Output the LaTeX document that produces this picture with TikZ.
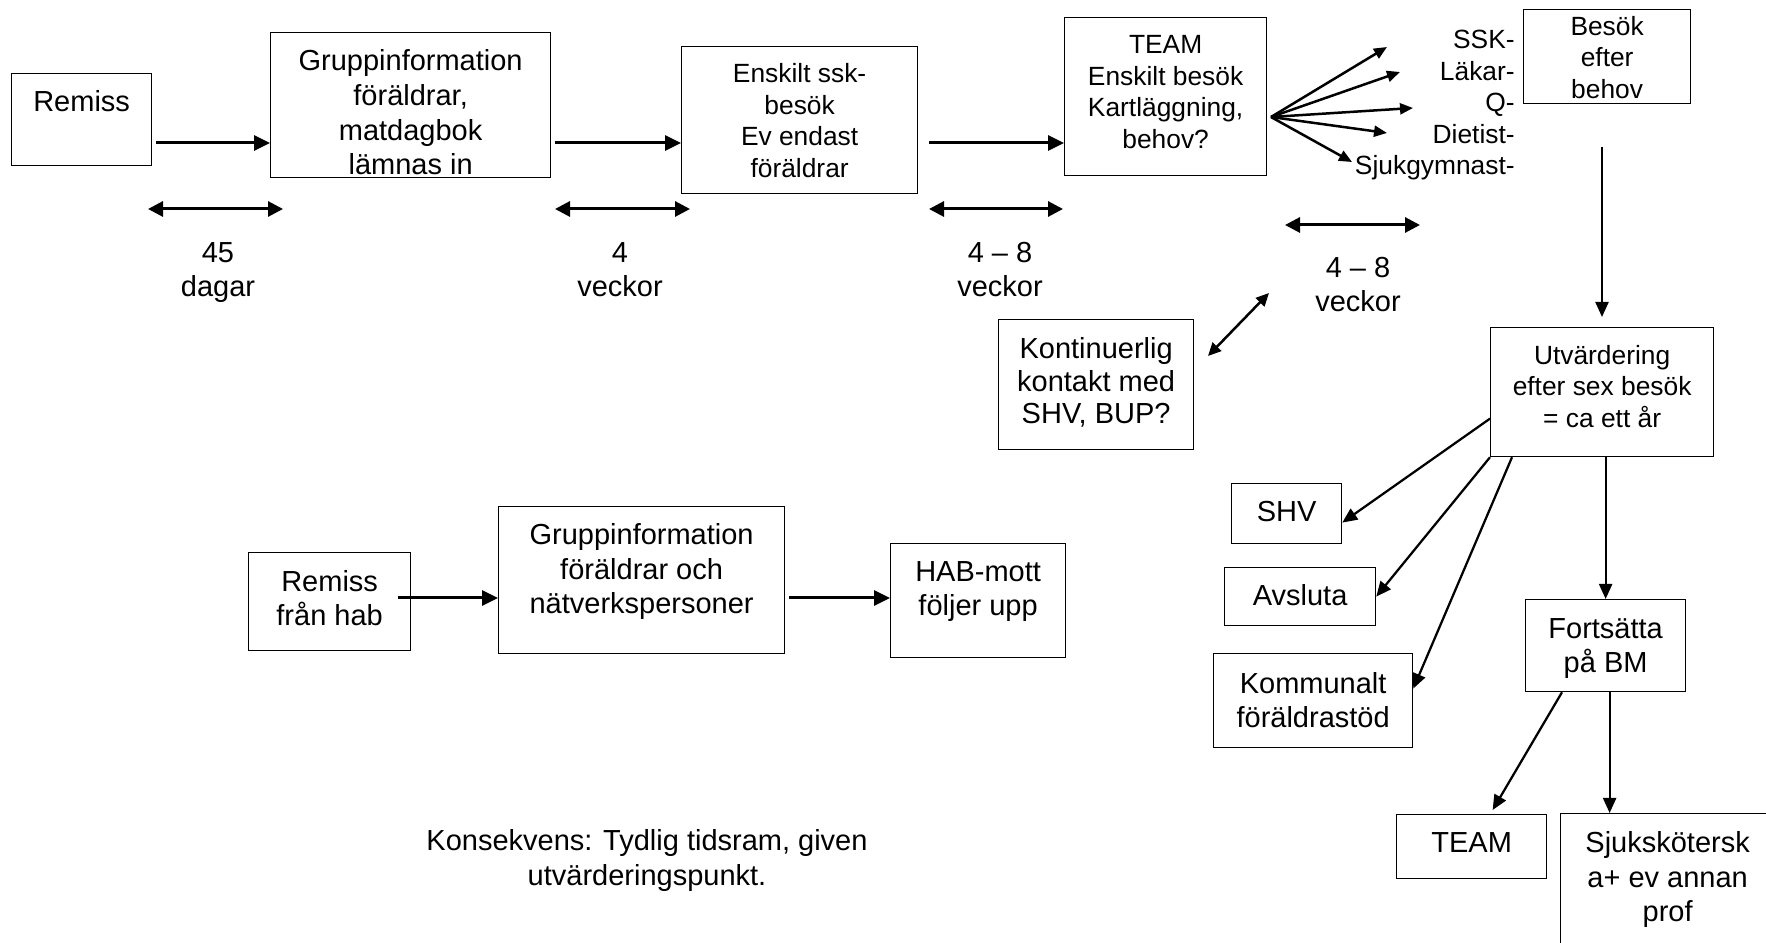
\documentclass[tikz,border=0pt]{standalone}
\usepackage{fontspec}
\setmainfont{Liberation Sans}
\usetikzlibrary{arrows.meta}

\newcommand{\mainsize}{\fontsize{16.5pt}{19.7pt}\selectfont}
\newcommand{\smallsize}{\fontsize{15pt}{18pt}\selectfont}

\tikzset{
  box/.style={draw, line width=0.025cm, inner sep=0pt, align=center, anchor=north west, font=\mainsize},
  smallbox/.style={box, font=\smallsize},
  lbl/.style={inner sep=0pt, align=center, anchor=base, font=\mainsize},
  arr/.style={line width=0.06cm, -{Triangle[length=0.32cm, width=0.3cm]}},
  darr/.style={line width=0.06cm, {Triangle[length=0.3cm, width=0.3cm]}-{Triangle[length=0.3cm, width=0.3cm]}},
  thindarr/.style={line width=0.05cm, {Triangle[length=0.26cm, width=0.24cm]}-{Triangle[length=0.26cm, width=0.24cm]}},
  thinarr/.style={line width=0.045cm, -{Triangle[length=0.3cm, width=0.26cm]}},
  fanarr/.style={line width=0.05cm, -{Triangle[length=0.26cm, width=0.22cm]}}
}

\begin{document}
\begin{tikzpicture}
\useasboundingbox (0,0) rectangle (35.32,-18.86);
\clip (0,0) rectangle (35.32,-18.86);

\node[box, minimum width=2.8cm, text height=0.76cm, text depth=1.08cm] (remiss) at (0.22,-1.46) {Remiss};
\node[box, minimum width=5.6cm, text height=2.84cm, text depth=0.06cm] (grupp1) at (5.4,-0.64) {Gruppinformation\\föräldrar,\\matdagbok\\lämnas in};
\node[smallbox, minimum width=4.72cm, text height=2.62cm, text depth=0.32cm] (enskilt) at (13.62,-0.92) {Enskilt ssk-\\besök\\Ev endast\\föräldrar};
\node[smallbox, minimum width=4.04cm, text height=2.62cm, text depth=0.54cm] (team) at (21.28,-0.34) {TEAM\\Enskilt besök\\Kartläggning,\\behov?};
\node[smallbox, minimum width=3.34cm, text height=1.78cm, text depth=0.1cm] (besok) at (30.46,-0.18) {Besök\\efter\\behov};
\node[lbl, font=\smallsize, align=right, anchor=base east] (roles) at (30.3,-3.5) {SSK-\\Läkar-\\Q-\\Dietist-\\Sjukgymnast-};

\coordinate (a1) at (3.12,-2.86);
\draw[arr] (a1) -- (a1 -| grupp1.west);
\coordinate (a2) at (11.1,-2.86);
\draw[arr] (a2) -- (a2 -| enskilt.west);
\coordinate (a3) at (18.58,-2.86);
\draw[arr] (a3) -- (a3 -| team.west);

\coordinate (fan) at (25.42,-2.34);
\foreach \x/\y [count=\i] in {27.74/-0.94, 28.0/-1.44, 28.26/-2.16, 27.74/-2.66, 27.04/-3.24} {
  \coordinate (f\i) at (\x,\y);
  \draw[fanarr] (fan) -- (f\i);
}

\foreach \name/\xa/\xb/\y in {t1/2.96/5.66/-4.18, t2/11.1/13.8/-4.18, t3/18.58/21.26/-4.18, t4/25.7/28.4/-4.5} {
  \coordinate (\name a) at (\xa,\y);
  \coordinate (\name b) at (\xb,\y);
  \draw[darr] (\name a) -- (\name b);
}

\node[lbl] (d45) at (4.36,-5.94) {45\\dagar};
\node[lbl] (w4) at (12.4,-5.94) {4\\veckor};
\node[lbl] (w48a) at (20.0,-5.94) {4 – 8\\veckor};
\node[lbl] (w48b) at (27.16,-6.24) {4 – 8\\veckor};

\node[box, font=\fontsize{16.5pt}{18.5pt}\selectfont, minimum width=3.9cm, text height=2.08cm, text depth=0.52cm] (kont) at (19.96,-6.38) {Kontinuerlig\\kontakt med\\SHV, BUP?};
\coordinate (k1) at (24.16,-7.12);
\coordinate (k2) at (25.38,-5.86);
\draw[thindarr] (k1) -- (k2);

\node[smallbox, minimum width=4.46cm, text height=2.0cm, text depth=0.58cm] (utv) at (29.8,-6.54) {Utvärdering\\efter sex besök\\= ca ett år};
\coordinate (b1) at (32.04,-2.94);
\draw[thinarr] (b1) -- ([yshift=0.2cm]b1 |- utv.north);

\node[box, minimum width=2.2cm, text height=0.76cm, text depth=0.44cm] (shv) at (24.62,-9.66) {SHV};
\node[box, minimum width=3.02cm, text height=0.76cm, text depth=0.4cm] (avsluta) at (24.48,-11.34) {Avsluta};
\node[box, minimum width=3.98cm, text height=1.48cm, text depth=0.4cm] (komm) at (24.26,-13.06) {Kommunalt\\föräldrastöd};
\node[box, minimum width=3.2cm, text height=1.46cm, text depth=0.38cm] (fort) at (30.5,-11.98) {Fortsätta\\på BM};
\node[box, minimum width=3.0cm, text height=0.76cm, text depth=0.52cm] (team2) at (27.92,-16.28) {TEAM};
\node[box, minimum width=4.28cm, text height=2.16cm, text depth=1.0cm] (sjuk) at (31.2,-16.26) {Sjukskötersk\\a+ ev annan\\prof};

\draw[thinarr] ([yshift=-0.53cm]utv.west) -- ([yshift=-0.18cm]shv.east);
\draw[thinarr] (utv.south west) -- (avsluta.east);
\draw[thinarr] ([xshift=0.44cm]utv.south west) -- ([yshift=0.24cm]komm.east);
\draw[thinarr] (utv.south -| fort.north) -- (fort.north);
\draw[thinarr] ([xshift=0.74cm]fort.south west) -- ([xshift=0.42cm, yshift=0.08cm]team2.north);
\coordinate (fs) at ([xshift=0.08cm]fort.south);
\draw[thinarr] (fs) -- (fs |- sjuk.north);

\node[box, minimum width=3.24cm, text height=1.46cm, text depth=0.5cm] (remhab) at (4.96,-11.04) {Remiss\\från hab};
\node[box, minimum width=5.72cm, text height=2.14cm, text depth=0.8cm] (grupp2) at (9.96,-10.12) {Gruppinformation\\föräldrar och\\nätverkspersoner};
\node[box, minimum width=3.5cm, text height=1.44cm, text depth=0.84cm] (hab) at (17.8,-10.86) {HAB-mott\\följer upp};
\coordinate (h1) at (7.96,-11.96);
\draw[arr] (h1) -- (h1 -| grupp2.west);
\coordinate (h2) at (15.78,-11.96);
\draw[arr] (h2) -- (h2 -| hab.west);

\node[lbl] (note) at (12.94,-17.7) {Konsekvens: Tydlig tidsram, given\\utvärderingspunkt.};

\end{tikzpicture}
\end{document}
